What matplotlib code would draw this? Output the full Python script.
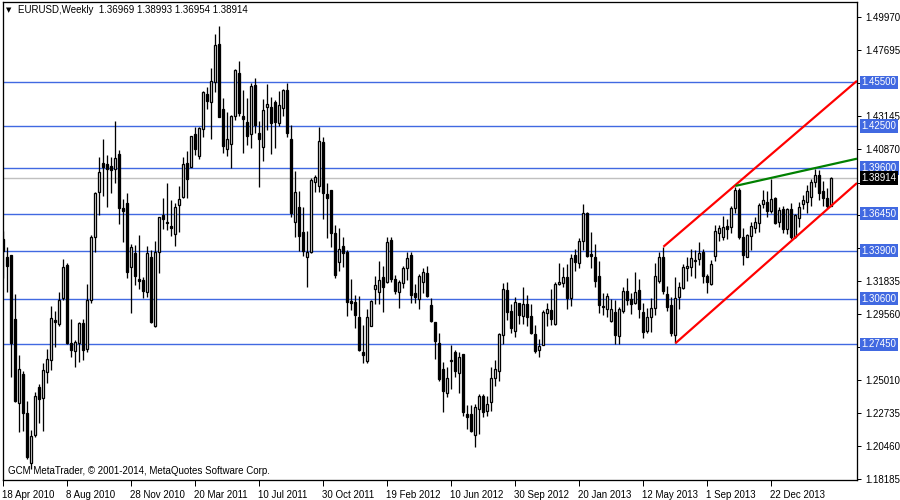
import numpy as np
import matplotlib
matplotlib.use("Agg")
import matplotlib.pyplot as plt
import matplotlib.transforms as mtransforms

# weekly EURUSD candles, first bar = week of 18 Apr 2010
opens = [1.3471, 1.3347, 1.3360, 1.2920, 1.2339, 1.2541, 1.2270, 1.1925, 1.2120, 1.2453,
         1.2373, 1.2557, 1.2637, 1.2913, 1.2885, 1.3062, 1.3292, 1.2757, 1.2701, 1.2757,
         1.2890, 1.2711, 1.3050, 1.3482, 1.3797, 1.3992, 1.3985, 1.3974, 1.3951, 1.4054,
         1.3682, 1.3716, 1.3280, 1.3372, 1.3195, 1.3188, 1.3108, 1.3344, 1.2874, 1.3383,
         1.3636, 1.3590, 1.3560, 1.3503, 1.3703, 1.3758, 1.3992, 1.3969, 1.4194, 1.4043,
         1.4226, 1.4470, 1.4412, 1.4555, 1.4814, 1.4364, 1.4088, 1.4123, 1.4320, 1.4612,
         1.4320, 1.4274, 1.4192, 1.4532, 1.4199, 1.4107, 1.4382, 1.4378, 1.4417, 1.4268,
         1.4375, 1.4497, 1.4160, 1.3590, 1.3689, 1.3519, 1.3344, 1.3379, 1.3866, 1.3838,
         1.4137, 1.3781, 1.3808, 1.3510, 1.3315, 1.3422, 1.3383, 1.3044, 1.3034, 1.2931,
         1.2695, 1.2633, 1.2874, 1.3126, 1.3108, 1.3207, 1.3177, 1.3464, 1.3195, 1.3108,
         1.3170, 1.3269, 1.3360, 1.3096, 1.3057, 1.3177, 1.3234, 1.3016, 1.2901, 1.2757,
         1.2575, 1.2412, 1.2633, 1.2695, 1.2545, 1.2678, 1.2263, 1.2263, 1.2120, 1.2297,
         1.2391, 1.2288, 1.2350, 1.2511, 1.2564, 1.2809, 1.3119, 1.2975, 1.2839, 1.3028,
         1.2940, 1.3023, 1.2940, 1.2816, 1.2706, 1.2740, 1.2963, 1.2982, 1.2885, 1.3161,
         1.3170, 1.3207, 1.3067, 1.3360, 1.3308, 1.3457, 1.3652, 1.3367, 1.3344, 1.3216,
         1.3011, 1.2991, 1.2908, 1.2966, 1.2802, 1.2975, 1.3112, 1.3055, 1.3028, 1.3119,
         1.2966, 1.2839, 1.2931, 1.2993, 1.3184, 1.3344, 1.3092, 1.3016, 1.2809, 1.3073,
         1.3135, 1.3273, 1.3280, 1.3317, 1.3331, 1.3379, 1.3216, 1.3158, 1.3356, 1.3514,
         1.3487, 1.3560, 1.3556, 1.3682, 1.3808, 1.3487, 1.3349, 1.3491, 1.3544, 1.3583,
         1.3710, 1.3728, 1.3664, 1.3751, 1.3590, 1.3677, 1.3537, 1.3675, 1.3487, 1.3613,
         1.3710, 1.3728, 1.3758, 1.3866, 1.3912, 1.3801, 1.3751, 1.36969]
highs = [1.3528, 1.3413, 1.3360, 1.3092, 1.2672, 1.2564, 1.2355, 1.2155, 1.2419, 1.2469,
         1.2614, 1.2713, 1.3011, 1.2975, 1.3108, 1.3335, 1.3308, 1.2920, 1.2775, 1.2901,
         1.2920, 1.3161, 1.3498, 1.3797, 1.4038, 1.4160, 1.4049, 1.4038, 1.4286, 1.4084,
         1.3746, 1.3788, 1.3436, 1.3429, 1.3498, 1.3211, 1.3422, 1.3395, 1.3459, 1.3625,
         1.3755, 1.3859, 1.3739, 1.3721, 1.3836, 1.4038, 1.4079, 1.4183, 1.4245, 1.4245,
         1.4493, 1.4520, 1.4646, 1.4883, 1.4938, 1.4440, 1.4343, 1.4325, 1.4640, 1.4697,
         1.4497, 1.4440, 1.4548, 1.4578, 1.4284, 1.4435, 1.4539, 1.4447, 1.4428, 1.4490,
         1.4504, 1.4548, 1.4256, 1.3939, 1.3801, 1.3689, 1.3528, 1.3889, 1.3912, 1.4245,
         1.4173, 1.3854, 1.3808, 1.3567, 1.3544, 1.3482, 1.3395, 1.3193, 1.3083, 1.3078,
         1.2878, 1.2988, 1.3050, 1.3216, 1.3319, 1.3285, 1.3487, 1.3487, 1.3223, 1.3188,
         1.3287, 1.3379, 1.3379, 1.3158, 1.3230, 1.3269, 1.3285, 1.3062, 1.2901, 1.2821,
         1.2626, 1.2591, 1.2740, 1.2706, 1.2690, 1.2678, 1.2327, 1.2327, 1.2334, 1.2401,
         1.2401, 1.2389, 1.2591, 1.2637, 1.2821, 1.3165, 1.3177, 1.3023, 1.3073, 1.3032,
         1.3142, 1.3085, 1.3021, 1.2878, 1.2779, 1.2982, 1.3028, 1.3124, 1.3177, 1.3303,
         1.3280, 1.3296, 1.3365, 1.3400, 1.3475, 1.3710, 1.3659, 1.3517, 1.3436, 1.3319,
         1.3101, 1.3101, 1.3055, 1.3050, 1.3000, 1.3142, 1.3204, 1.3096, 1.3246, 1.3197,
         1.3028, 1.2993, 1.3062, 1.3303, 1.3383, 1.3418, 1.3149, 1.3073, 1.3207, 1.3177,
         1.3298, 1.3344, 1.3400, 1.3395, 1.3448, 1.3400, 1.3230, 1.3326, 1.3567, 1.3567,
         1.3631, 1.3608, 1.3700, 1.3831, 1.3820, 1.3544, 1.3505, 1.3590, 1.3625, 1.3721,
         1.3808, 1.3804, 1.3882, 1.3758, 1.3693, 1.3698, 1.3682, 1.3721, 1.3641, 1.3728,
         1.3774, 1.3843, 1.3882, 1.3953, 1.3946, 1.3873, 1.3824, 1.38993]
lows = [1.3200, 1.3108, 1.2518, 1.2350, 1.2139, 1.2150, 1.1953, 1.1884, 1.2109, 1.2205,
        1.2150, 1.2476, 1.2568, 1.2729, 1.2871, 1.3050, 1.2747, 1.2660, 1.2587, 1.2626,
        1.2637, 1.2695, 1.3028, 1.3379, 1.3636, 1.3769, 1.3693, 1.3785, 1.3859, 1.3572,
        1.3448, 1.3200, 1.2963, 1.3154, 1.3124, 1.3062, 1.3069, 1.2895, 1.2867, 1.3239,
        1.3537, 1.3533, 1.3491, 1.3425, 1.3521, 1.3751, 1.3751, 1.3964, 1.4049, 1.4020,
        1.4176, 1.4364, 1.4157, 1.4486, 1.4309, 1.4061, 1.4043, 1.3962, 1.4291, 1.4318,
        1.4065, 1.4118, 1.4100, 1.4199, 1.3831, 1.4010, 1.4222, 1.4054, 1.4100, 1.4249,
        1.4318, 1.4176, 1.3625, 1.3487, 1.3390, 1.3356, 1.3142, 1.3372, 1.3797, 1.3797,
        1.3606, 1.3480, 1.3418, 1.3200, 1.3253, 1.3280, 1.2943, 1.2982, 1.2855, 1.2701,
        1.2619, 1.2619, 1.2871, 1.3023, 1.3023, 1.2970, 1.3165, 1.3177, 1.3092, 1.2998,
        1.3131, 1.3188, 1.3032, 1.3032, 1.2988, 1.3101, 1.3073, 1.2901, 1.2642, 1.2495,
        1.2281, 1.2385, 1.2435, 1.2518, 1.2407, 1.2254, 1.2159, 1.2143, 1.2040, 1.2127,
        1.2242, 1.2251, 1.2288, 1.2458, 1.2495, 1.2747, 1.2913, 1.2825, 1.2798, 1.2885,
        1.2885, 1.2871, 1.2816, 1.2688, 1.2660, 1.2740, 1.2871, 1.2878, 1.2878, 1.3154,
        1.3142, 1.2986, 1.3009, 1.3253, 1.3269, 1.3395, 1.3344, 1.3269, 1.3142, 1.2963,
        1.2947, 1.2931, 1.2901, 1.2747, 1.2747, 1.2959, 1.3016, 1.2954, 1.3023, 1.2929,
        1.2791, 1.2821, 1.2832, 1.2947, 1.3170, 1.3092, 1.2977, 1.2802, 1.2752, 1.2991,
        1.3126, 1.3181, 1.3216, 1.3204, 1.3292, 1.3170, 1.3101, 1.3154, 1.3321, 1.3457,
        1.3464, 1.3468, 1.3510, 1.3648, 1.3468, 1.3292, 1.3344, 1.3395, 1.3514, 1.3517,
        1.3687, 1.3620, 1.3652, 1.3574, 1.3551, 1.3514, 1.3503, 1.3471, 1.3475, 1.3556,
        1.3677, 1.3648, 1.3700, 1.3831, 1.3739, 1.3700, 1.3682, 1.36954]
closes = [1.3390, 1.3287, 1.2752, 1.2357, 1.2575, 1.2270, 1.1967, 1.2114, 1.2389, 1.2366,
          1.2568, 1.2642, 1.2924, 1.2901, 1.3050, 1.3276, 1.2752, 1.2706, 1.2763, 1.2890,
          1.2706, 1.3050, 1.3487, 1.3785, 1.3935, 1.3969, 1.3955, 1.3946, 1.4026, 1.3687,
          1.3666, 1.3241, 1.3413, 1.3218, 1.3184, 1.3112, 1.3372, 1.2901, 1.3383, 1.3620,
          1.3606, 1.3579, 1.3544, 1.3689, 1.3744, 1.3987, 1.3882, 1.4180, 1.4088, 1.4233,
          1.4486, 1.4424, 1.4559, 1.4807, 1.4313, 1.4114, 1.4157, 1.4318, 1.4635, 1.4341,
          1.4300, 1.4183, 1.4525, 1.4256, 1.4157, 1.4359, 1.4398, 1.4272, 1.4279, 1.4394,
          1.4497, 1.4203, 1.3652, 1.3792, 1.3494, 1.3390, 1.3379, 1.3877, 1.3896, 1.4146,
          1.3785, 1.3751, 1.3510, 1.3223, 1.3400, 1.3377, 1.3039, 1.3032, 1.2947, 1.2706,
          1.2672, 1.2931, 1.3044, 1.3154, 1.3188, 1.3138, 1.3448, 1.3193, 1.3115, 1.3172,
          1.3269, 1.3338, 1.3085, 1.3073, 1.3216, 1.3246, 1.3078, 1.2906, 1.2770, 1.2506,
          1.2426, 1.2511, 1.2637, 1.2564, 1.2655, 1.2281, 1.2247, 1.2150, 1.2316, 1.2389,
          1.2281, 1.2334, 1.2511, 1.2573, 1.2814, 1.3124, 1.2970, 1.2855, 1.3034, 1.2947,
          1.3021, 1.2936, 1.2821, 1.2701, 1.2736, 1.2966, 1.2986, 1.2917, 1.3158, 1.3177,
          1.3211, 1.3067, 1.3338, 1.3315, 1.3457, 1.3652, 1.3354, 1.3356, 1.3184, 1.3016,
          1.3000, 1.3078, 1.2986, 1.2809, 1.2986, 1.3112, 1.3050, 1.3023, 1.3108, 1.2986,
          1.2832, 1.2931, 1.2993, 1.3216, 1.3344, 1.3115, 1.3005, 1.2821, 1.3062, 1.3142,
          1.3276, 1.3285, 1.3338, 1.3326, 1.3377, 1.3218, 1.3177, 1.3296, 1.3526, 1.3544,
          1.3551, 1.3537, 1.3687, 1.3808, 1.3482, 1.3360, 1.3498, 1.3560, 1.3590, 1.3705,
          1.3739, 1.3666, 1.3746, 1.3583, 1.3671, 1.3537, 1.3677, 1.3482, 1.3636, 1.3689,
          1.3739, 1.3801, 1.3866, 1.3912, 1.3790, 1.3751, 1.3700, 1.38914]

# bottom date labels, one every 16 bars
date_labels = ["18 Apr 2010", "8 Aug 2010", "28 Nov 2010", "20 Mar 2011", "10 Jul 2011",
               "30 Oct 2011", "19 Feb 2012", "10 Jun 2012", "30 Sep 2012", "20 Jan 2013",
               "12 May 2013", "1 Sep 2013", "22 Dec 2013"]

# right price scale (ticks hidden behind the level boxes keep their mark but no text)
price_ticks = [1.18185, 1.20460, 1.22735, 1.25010, 1.27285, 1.29560, 1.31835, 1.34110,
               1.36385, 1.38595, 1.40870, 1.43145, 1.45420, 1.47695, 1.49970]
price_labels = ["1.18185", "1.20460", "1.22735", "1.25010", "", "1.29560", "1.31835",
                "", "", "", "1.40870", "1.43145", "", "1.47695", "1.49970"]

# horizontal support / resistance levels
levels = [1.4550, 1.4250, 1.3960, 1.3645, 1.3390, 1.3060, 1.2745]
level_labels = ["1.45500", "1.42500", "1.39600", "1.36450", "1.33900", "1.30600", "1.27450"]
last_price = 1.38914

# trend lines (bar index, price), drawn as rays to the right
upper_x = [165, 212]
upper_y = [1.3417, 1.4527]
lower_x = [168, 212]
lower_y = [1.2752, 1.3822]
green_x = [183, 212]
green_y = [1.3836, 1.4015]

blue = "#4169E1"
px = 0.72  # one pixel in points at 100 dpi

fig = plt.figure(figsize=(9, 5), dpi=100)
ax = fig.add_axes([3 / 900, 20 / 500, 854 / 900, 478 / 500])
x0, x1 = -0.1, 213.4
ax.set_xlim(x0, x1)
ax.set_ylim(1.1810, 1.5103)

# levels and bid line
for lv in levels:
    ax.axhline(lv, color=blue, lw=1.4 * px, zorder=1)
ax.axhline(last_price, color="#C0C0C0", lw=1.4 * px, zorder=1)

# candles
idx = np.arange(len(closes))
o = np.array(opens)
c = np.array(closes)
ax.vlines(idx, lows, highs, color="black", lw=1.3 * px, zorder=2)
up = c >= o
body = np.maximum(np.abs(c - o), 0.00008)
ax.bar(idx[up], body[up], bottom=o[up], width=0.5, facecolor="white",
       edgecolor="black", linewidth=1.3 * px, zorder=3)
ax.bar(idx[~up], body[~up], bottom=c[~up], width=0.5, facecolor="black",
       edgecolor="black", linewidth=1.3 * px, zorder=3)


# trend line rays
def ray(xs, ys, color):
    slope = (ys[1] - ys[0]) / (xs[1] - xs[0])
    ax.plot([xs[0], x1], [ys[0], ys[0] + slope * (x1 - xs[0])], color=color,
            lw=2.2 * px, zorder=4, solid_capstyle="butt")


ray(upper_x, upper_y, "#FF0000")
ray(lower_x, lower_y, "#FF0000")
ray(green_x, green_y, "#008000")

# axes styling
for s in ax.spines.values():
    s.set_color("black")
    s.set_linewidth(1.3 * px)

font = "Liberation Sans"
ax.yaxis.tick_right()
ax.set_yticks(price_ticks)
ax.set_yticklabels(price_labels, fontsize=7, family=font)
ax.tick_params(axis="y", direction="out", length=3, width=px, pad=3)

ax.set_xticks(idx[::16][:len(date_labels)])
ax.set_xticklabels(date_labels, fontsize=7, family=font, ha="left")
ax.tick_params(axis="x", direction="out", length=4, width=px, pad=3)
for lab in ax.get_xticklabels():
    lab.set_transform(lab.get_transform() + mtransforms.ScaledTranslation(-1 / 100, 0, fig.dpi_scale_trans))

# coloured price boxes on the scale
tr = mtransforms.blended_transform_factory(ax.transAxes, ax.transData)
for lv, lab in zip(levels, level_labels):
    ax.text(1.0055, lv, lab, transform=tr, ha="left", va="center", fontsize=7,
            family=font, color="white", clip_on=False, zorder=10,
            bbox=dict(boxstyle="square,pad=0.18", fc=blue, ec="none"))
ax.text(1.0055, last_price, "1.38914", transform=tr, ha="left", va="center", fontsize=7,
        family=font, color="white", clip_on=False, zorder=10,
        bbox=dict(boxstyle="square,pad=0.18", fc="black", ec="none"))

# header and footer text
ax.text(0.004, 0.983, "\u25BC", transform=ax.transAxes, fontsize=5, va="center", ha="left")
ax.text(0.018, 0.983, "EURUSD,Weekly  1.36969 1.38993 1.36954 1.38914",
        transform=ax.transAxes, fontsize=7, family=font, va="center", ha="left")
ax.text(0.006, 0.018, "GCM MetaTrader, \u00a9 2001-2014, MetaQuotes Software Corp.",
        transform=ax.transAxes, fontsize=7, family=font, va="center", ha="left")

fig.savefig("out.png", dpi=100)
